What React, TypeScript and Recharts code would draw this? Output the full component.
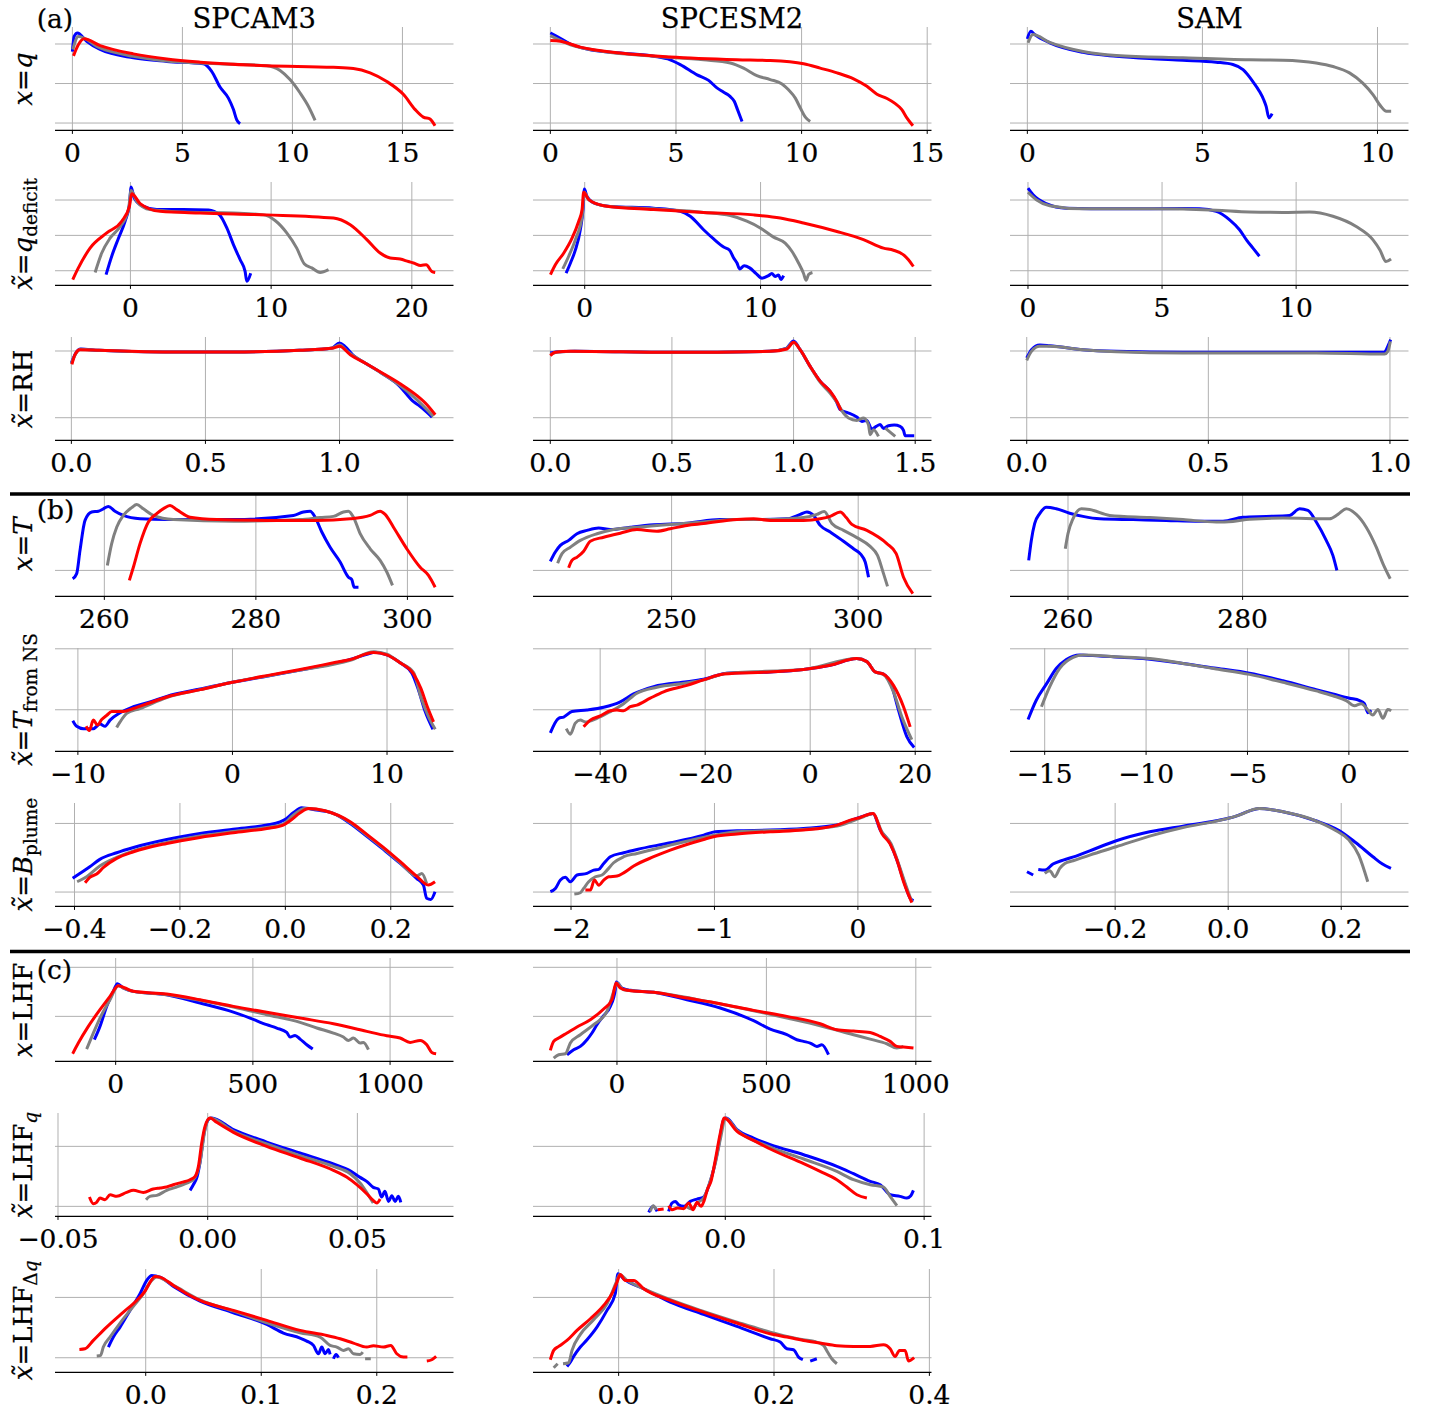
import React from "react";
import { LineChart, Line, XAxis, YAxis, CartesianGrid } from "recharts";

type Pt = [number, number] | null;

// ---- (a) x = q ----
const q_cam_b: Pt[] = [[0,1.81],[0.08,2.19],[0.23,2.28],[0.65,2.07],[1.26,1.86],[2.77,1.65],[4.29,1.56],[5.95,1.5],[6.33,1.31],[6.71,0.91],[7.09,0.63],[7.32,0.34],[7.47,0.08],[7.62,-0.02]];
const q_cam_g: Pt[] = [[0.02,1.86],[0.27,2.19],[1.26,1.9],[2.77,1.69],[4.29,1.57],[5.8,1.52],[7.32,1.49],[8.83,1.45],[9.44,1.33],[9.89,1.1],[10.35,0.76],[10.73,0.42],[11.03,0.07]];
const q_cam_r: Pt[] = [[0.05,1.7],[0.27,1.98],[0.53,2.13],[1.26,1.96],[2.77,1.75],[4.29,1.62],[5.8,1.54],[8.83,1.45],[11.86,1.41],[12.77,1.38],[13.53,1.27],[14.29,1.05],[15.05,0.72],[15.58,0.34],[15.95,0.15],[16.26,0.1],[16.48,-0.07]];
const q_cesm_b: Pt[] = [[0,2.28],[0.27,2.19],[0.8,2.0],[1.46,1.87],[2.79,1.77],[4.11,1.69],[4.77,1.6],[5.17,1.48],[5.84,1.22],[6.3,1.08],[6.63,0.89],[6.9,0.78],[7.14,0.68],[7.32,0.55],[7.45,0.34],[7.63,0.04]];
const q_cesm_g: Pt[] = [[0,2.21],[0.8,1.98],[2.12,1.81],[4.11,1.69],[6.1,1.6],[7.16,1.52],[7.69,1.39],[8.22,1.2],[8.75,1.1],[9.22,0.99],[9.48,0.84],[9.75,0.63],[9.95,0.38],[10.15,0.15],[10.34,0.04]];
const q_cesm_r: Pt[] = [[0,2.09],[0.4,2.07],[1.19,1.92],[2.79,1.77],[4.77,1.67],[7.43,1.6],[8.75,1.58],[10.08,1.5],[10.74,1.39],[11.41,1.27],[12.07,1.12],[12.6,0.93],[13.0,0.73],[13.4,0.62],[13.73,0.49],[13.99,0.34],[14.19,0.13],[14.43,-0.07]];
const q_sam_b: Pt[] = [[0,2.13],[0.1,2.32],[0.21,2.24],[0.64,2.03],[1.59,1.79],[2.54,1.69],[3.49,1.63],[4.44,1.59],[5.39,1.54],[5.87,1.48],[6.16,1.35],[6.44,1.05],[6.63,0.8],[6.75,0.59],[6.82,0.42],[6.9,0.13],[6.99,0.24]];
const q_sam_g: Pt[] = [[0.02,2.03],[0.16,2.24],[0.64,2.04],[1.59,1.81],[2.54,1.71],[4.44,1.65],[6.35,1.6],[7.3,1.59],[8.25,1.52],[8.73,1.43],[9.2,1.27],[9.58,1.01],[9.87,0.72],[10.1,0.42],[10.25,0.3],[10.39,0.3]];

// ---- q deficit ----
const qdef_cam_b: Pt[] = [[-1.73,-0.11],[-1.33,0.41],[-0.85,0.92],[-0.38,1.4],[-0.07,1.87],[0.05,2.37],[0.26,2.06],[0.81,1.84],[1.87,1.73],[3.77,1.73],[5.55,1.72],[6.33,1.58],[6.85,1.21],[7.32,0.74],[7.8,0.31],[8.15,-0.02],[8.27,-0.3],[8.55,-0.07]];
const qdef_cam_g: Pt[] = [[-2.51,-0.05],[-2.04,0.5],[-1.45,0.92],[-0.73,1.25],[-0.14,1.73],[0.05,2.27],[0.45,1.96],[1.4,1.73],[3.77,1.66],[7.32,1.63],[9.45,1.58],[10.28,1.42],[11.11,1.07],[11.82,0.64],[12.35,0.2],[12.89,0.08],[13.48,-0.05],[14.08,0.03]];
const qdef_cam_r: Pt[] = [[-4.1,-0.25],[-3.7,0.08],[-2.87,0.64],[-1.68,1.07],[-0.62,1.4],[-0.07,1.82],[0.09,2.18],[0.69,1.9],[2.11,1.68],[4.95,1.63],[9.69,1.58],[14.43,1.49],[15.62,1.3],[16.8,0.88],[17.75,0.5],[18.46,0.36],[19.17,0.33],[19.76,0.26],[20.12,0.22],[20.64,0.15],[21.02,0.17],[21.42,-0.02],[21.66,-0.05]];
const qdef_cesm_b: Pt[] = [[-1.06,-0.07],[-0.81,0.22],[-0.53,0.59],[-0.25,1.16],[-0.09,1.77],[-0.02,2.31],[0.13,2.1],[0.51,1.92],[1.46,1.82],[3.92,1.77],[5.44,1.68],[6.0,1.54],[6.76,1.16],[7.33,0.9],[7.9,0.67],[8.24,0.58],[8.47,0.36],[8.66,0.22],[8.81,0.05],[9.07,0.14],[9.38,0.08],[9.75,-0.08],[10.08,-0.21],[10.45,-0.14],[10.64,-0.08],[10.83,-0.16],[11.02,-0.12],[11.16,-0.25],[11.31,-0.14]];
const qdef_cesm_g: Pt[] = [[-1.25,0.05],[-0.91,0.41],[-0.53,0.88],[-0.15,1.54],[-0.02,2.22],[0.23,2.01],[1.08,1.84],[3.92,1.75],[6.76,1.65],[8.28,1.56],[9.22,1.4],[9.98,1.21],[10.74,0.95],[11.4,0.78],[11.78,0.55],[12.16,0.22],[12.44,-0.07],[12.59,-0.27],[12.73,-0.11],[12.95,-0.05]];
const qdef_cesm_r: Pt[] = [[-1.95,-0.11],[-1.67,0.17],[-1.19,0.5],[-0.72,0.92],[-0.34,1.4],[-0.15,1.73],[-0.06,2.22],[0.23,2.01],[1.08,1.84],[3.92,1.73],[6.76,1.65],[9.6,1.58],[11.12,1.49],[12.44,1.35],[14.34,1.11],[15.85,0.88],[16.99,0.64],[17.56,0.58],[18.13,0.45],[18.41,0.31],[18.69,0.12]];
const qdef_sam_b: Pt[] = [[0,2.34],[0.19,2.15],[0.68,1.9],[1.43,1.77],[3.29,1.75],[5.78,1.76],[6.4,1.75],[7.02,1.68],[7.52,1.44],[7.89,1.16],[8.16,0.86],[8.39,0.64],[8.63,0.41]];
const qdef_sam_g: Pt[] = [[0,2.22],[0.31,2.01],[0.81,1.84],[2.05,1.75],[4.53,1.75],[7.02,1.71],[8.26,1.66],[9.5,1.65],[10.5,1.66],[11.37,1.54],[12.24,1.25],[12.86,0.88],[13.13,0.58],[13.35,0.26],[13.54,0.33]];

// ---- RH ----
const rh_cam_b: Pt[] = [[0,0.82],[0.015,0.96],[0.035,1.03],[0.1,1.01],[0.35,0.985],[0.6,0.985],[0.85,1.01],[0.97,1.04],[1.0,1.12],[1.02,1.07],[1.05,0.94],[1.1,0.81],[1.16,0.66],[1.22,0.49],[1.276,0.24],[1.3,0.17],[1.345,0.01]];
const rh_cam_g: Pt[] = [[0,0.81],[0.015,0.95],[0.035,1.025],[0.1,1.01],[0.35,0.985],[0.6,0.985],[0.85,1.01],[0.97,1.04],[1.0,1.09],[1.03,0.99],[1.1,0.81],[1.16,0.66],[1.22,0.5],[1.28,0.3],[1.35,0.02]];
const rh_cam_r: Pt[] = [[0.002,0.8],[0.014,0.95],[0.032,1.02],[0.107,1.01],[0.356,0.985],[0.604,0.985],[0.853,1.01],[0.978,1.045],[1.0,1.07],[1.04,0.945],[1.1,0.81],[1.164,0.66],[1.226,0.51],[1.289,0.33],[1.326,0.195],[1.357,0.045]];
const rh_cesm_b: Pt[] = [[0,0.97],[0.03,0.99],[0.1,0.995],[0.5,0.98],[0.9,0.995],[0.97,1.04],[1.0,1.15],[1.027,1.02],[1.068,0.77],[1.11,0.545],[1.15,0.395],[1.175,0.25],[1.192,0.12],[1.219,0.08],[1.26,0.01],[1.281,-0.055],[1.301,-0.04],[1.322,-0.17],[1.34,-0.13],[1.356,-0.1],[1.37,-0.16],[1.39,-0.12],[1.414,-0.11],[1.438,-0.13],[1.452,-0.19],[1.459,-0.27],[1.496,-0.27]];
const rh_cesm_g: Pt[] = [[0,0.95],[0.03,0.985],[0.1,0.995],[0.5,0.98],[0.9,0.995],[0.97,1.035],[1.0,1.13],[1.027,1.02],[1.068,0.77],[1.11,0.53],[1.15,0.37],[1.18,0.22],[1.205,0.07],[1.226,-0.005],[1.26,-0.04],[1.288,-0.005],[1.308,-0.105],[1.315,-0.255],[1.329,-0.18],[1.349,-0.28],null,[1.377,-0.155],[1.418,-0.28]];
const rh_cesm_r: Pt[] = [[0,0.93],[0.021,0.98],[0.082,0.995],[0.493,0.98],[0.904,0.995],[0.973,1.03],[1.0,1.13],[1.027,1.02],[1.068,0.77],[1.11,0.545],[1.151,0.395],[1.178,0.245],[1.195,0.11]];
const rh_sam_b: Pt[] = [[0,0.895],[0.013,1.02],[0.036,1.09],[0.063,1.08],[0.155,1.02],[0.247,0.995],[0.43,0.98],[0.614,0.98],[0.797,0.98],[0.985,0.985],[0.994,1.07],[1.002,1.17]];
const rh_sam_g: Pt[] = [[0,0.86],[0.013,0.995],[0.036,1.07],[0.063,1.07],[0.155,1.02],[0.247,0.99],[0.43,0.97],[0.614,0.97],[0.797,0.97],[0.985,0.955],[0.994,0.995],[1.001,1.145]];

// ---- (b) x = T ----
const t_cam_b: Pt[] = [[255.82,-0.21],[256.35,-0.08],[256.79,0.5],[257.45,1.25],[258.33,1.46],[259.21,1.48],[259.87,1.54],[260.53,1.6],[261.41,1.48],[262.51,1.375],[264.71,1.29],[268.23,1.27],[277.03,1.27],[284.96,1.375],[286.28,1.46],[287.16,1.48],[287.82,1.33],[288.7,0.96],[289.8,0.58],[291.12,0.21],[292.22,-0.17],[292.66,-0.23],[292.97,-0.42],[293.54,-0.42]];
const t_cam_g: Pt[] = [[260.4,0.125],[260.97,0.67],[261.63,1.08],[262.51,1.375],[263.61,1.57],[264.27,1.65],[265.15,1.54],[266.47,1.375],[269.11,1.27],[277.03,1.23],[285.84,1.27],[288.48,1.32],[290.24,1.35],[291.56,1.46],[292.22,1.48],[292.88,1.33],[293.76,0.92],[295.08,0.54],[296.4,0.25],[297.28,-0.04],[298.03,-0.375]];
const t_cam_r: Pt[] = [[263.3,-0.25],[263.83,0.08],[264.71,0.67],[265.81,1.21],[266.91,1.42],[268.01,1.57],[268.67,1.625],[269.55,1.52],[271.31,1.33],[274.83,1.27],[281.43,1.25],[288.04,1.25],[292.44,1.29],[295.08,1.375],[296.4,1.48],[297.06,1.4],[298.16,1.08],[299.92,0.54],[301.68,0.08],[302.78,-0.125],[303.66,-0.42]];
const t_cesm_b: Pt[] = [[217.5,0.225],[218.84,0.46],[220.18,0.625],[222.41,0.75],[224.64,0.917],[227.32,1.0],[230.45,1.06],[233.57,1.02],[238.93,1.08],[245.18,1.14],[254.11,1.18],[263.04,1.27],[271.96,1.27],[280.89,1.29],[284.46,1.4],[286.25,1.46],[288.04,1.375],[289.82,1.125],[292.5,0.96],[296.07,0.73],[298.75,0.54],[300.71,0.4],[301.88,0.21],[302.77,-0.17]];
const t_cesm_g: Pt[] = [[219.46,0.18],[220.63,0.42],[222.86,0.58],[225.54,0.75],[230.0,0.917],[234.46,1.02],[240.71,1.08],[249.64,1.15],[258.57,1.21],[267.5,1.27],[276.43,1.27],[285.36,1.32],[288.93,1.4],[290.89,1.475],[292.95,1.17],[296.07,1.0],[299.64,0.82],[303.21,0.6],[305.18,0.375],[306.79,-0.08],[307.86,-0.4]];
const t_cesm_r: Pt[] = [[222.41,0.067],[223.3,0.25],[224.64,0.33],[226.43,0.48],[228.21,0.73],[231.79,0.83],[236.25,0.93],[240.71,1.02],[246.07,0.98],[249.64,1.04],[254.11,1.125],[258.57,1.17],[267.5,1.275],[271.96,1.29],[276.43,1.25],[285.36,1.25],[289.82,1.29],[292.5,1.35],[295.18,1.46],[296.79,1.32],[298.3,1.15],[302.32,1.0],[307.68,0.67],[310.18,0.42],[312.14,-0.17],[314.64,-0.58]];
const t_sam_b: Pt[] = [[255.5,0.25],[255.8,0.75],[256.18,1.17],[256.76,1.42],[257.52,1.58],[258.66,1.54],[260.19,1.43],[261.72,1.35],[263.63,1.29],[267.44,1.27],[271.26,1.25],[275.08,1.23],[277.75,1.23],[280.04,1.33],[282.71,1.35],[285.38,1.375],[286.53,1.54],[287.48,1.5],[288.44,1.21],[289.58,0.75],[290.34,0.375],[290.8,0.0]];
const t_sam_g: Pt[] = [[259.69,0.54],[260.0,0.92],[260.57,1.29],[261.53,1.54],[262.48,1.52],[264.77,1.375],[269.35,1.32],[273.17,1.27],[276.98,1.21],[278.89,1.225],[280.8,1.28],[284.62,1.31],[289.96,1.29],[290.92,1.4],[291.87,1.54],[293.02,1.4],[294.16,1.08],[295.31,0.58],[296.07,0.17],[296.91,-0.21]];

// ---- T from NS ----
const tns_cam_b: Pt[] = [[-10.33,-0.18],[-10.08,-0.27],[-9.64,-0.31],[-9.0,-0.31],[-8.57,-0.235],[-8.24,-0.27],[-7.92,-0.17],[-7.27,-0.05],[-6.41,0.05],[-5.33,0.13],[-4.25,0.22],[-2.09,0.34],[0,0.45],[2.22,0.55],[4.38,0.65],[6.54,0.76],[7.62,0.825],[8.69,0.91],[9.23,0.945],[9.99,0.9],[10.85,0.77],[11.61,0.6],[12.04,0.32],[12.47,-0.03],[12.97,-0.32]];
const tns_cam_g: Pt[] = [[-7.49,-0.29],[-7.27,-0.2],[-6.84,-0.06],[-5.98,0.02],[-4.25,0.2],[-2.09,0.33],[0,0.45],[4.38,0.65],[7.62,0.81],[9.13,0.95],[9.99,0.91],[10.85,0.77],[11.72,0.61],[12.19,0.21],[12.69,-0.115],[13.12,-0.32]];
const tns_cam_r: Pt[] = [[-9.47,-0.27],[-9.26,-0.34],[-9.0,-0.17],[-8.74,-0.25],[-8.46,-0.16],[-8.13,-0.09],[-7.81,-0.03],[-7.06,-0.03],[-6.41,0.02],[-5.33,0.115],[-4.25,0.21],[-2.09,0.33],[0,0.45],[2.22,0.56],[4.38,0.66],[6.54,0.77],[7.62,0.825],[9.13,0.94],[9.99,0.9],[10.85,0.77],[11.72,0.585],[12.19,0.35],[12.62,0.04],[13.01,-0.2]];
const tns_cesm_b: Pt[] = [[-49.49,-0.38],[-47.91,-0.14],[-46.95,-0.12],[-45.37,-0.03],[-42.51,-0.005],[-39.34,0.04],[-36.17,0.13],[-33.63,0.26],[-29.82,0.38],[-23.48,0.46],[-20.3,0.5],[-15.86,0.6],[-7.61,0.62],[-1.27,0.66],[3.81,0.73],[8.88,0.84],[10.79,0.79],[12.37,0.62],[13.96,0.585],[15.55,0.38],[16.81,-0.005],[18.4,-0.44],[19.8,-0.62]];
const tns_cesm_g: Pt[] = [[-46.45,-0.31],[-45.69,-0.4],[-44.73,-0.22],[-43.78,-0.17],[-42.83,-0.2],[-40.61,-0.14],[-38.07,-0.03],[-35.53,0.1],[-32.99,0.27],[-29.19,0.37],[-23.48,0.44],[-20.3,0.49],[-15.86,0.6],[-1.27,0.66],[8.88,0.84],[10.79,0.79],[12.37,0.62],[13.96,0.58],[15.86,0.295],[17.45,-0.115],[19.35,-0.49]];
const tns_cesm_r: Pt[] = [[-43.15,-0.28],[-41.88,-0.17],[-39.97,-0.1],[-38.07,-0.016],[-36.8,-0.005],[-35.53,-0.016],[-34.26,0.05],[-32.99,0.077],[-30.46,0.19],[-27.92,0.295],[-23.48,0.4],[-20.3,0.49],[-16.5,0.585],[-7.61,0.62],[-1.27,0.66],[3.81,0.73],[8.88,0.84],[10.79,0.79],[12.37,0.62],[13.96,0.585],[15.86,0.4],[17.77,0.05],[19.04,-0.28]];
const tns_sam_b: Pt[] = [[-15.82,-0.16],[-15.41,0.16],[-14.92,0.42],[-14.42,0.68],[-13.93,0.825],[-13.27,0.9],[-12.29,0.88],[-10.15,0.84],[-8.18,0.76],[-6.54,0.68],[-4.9,0.6],[-3.25,0.475],[-1.61,0.33],[-0.79,0.26],[0.03,0.19],[0.53,0.15],[0.77,0.1],[0.94,-0.05],[1.1,-0.005]];
const tns_sam_g: Pt[] = [[-15.16,0.05],[-14.75,0.38],[-14.26,0.68],[-13.6,0.86],[-13.11,0.9],[-11.47,0.87],[-9.82,0.84],[-8.18,0.76],[-6.54,0.67],[-4.9,0.58],[-3.25,0.45],[-1.61,0.31],[-0.79,0.23],[-0.13,0.15],[0.28,0.066],[0.61,0.1],[0.94,-0.005],[1.18,-0.087],[1.43,0.005],[1.68,-0.14],[1.92,0.005],[2.09,-0.016]];

// ---- B plume ----
const bpl_cam_b: Pt[] = [[-0.4035,0.2],[-0.39,0.27],[-0.371,0.37],[-0.352,0.476],[-0.32,0.573],[-0.288,0.65],[-0.225,0.767],[-0.162,0.854],[-0.099,0.917],[-0.035,0.976],[-0.01,1.024],[0.0025,1.073],[0.015,1.155],[0.031,1.228],[0.059,1.194],[0.091,1.146],[0.123,1.0],[0.154,0.816],[0.186,0.621],[0.218,0.417],[0.249,0.199],[0.262,0.1],[0.268,-0.09],[0.276,-0.107],[0.284,0.005]];
const bpl_cam_g: Pt[] = [[-0.395,0.15],[-0.377,0.223],[-0.352,0.379],[-0.32,0.505],[-0.288,0.6],[-0.225,0.723],[-0.162,0.816],[-0.099,0.883],[-0.035,0.942],[-0.004,0.99],[0.015,1.12],[0.037,1.218],[0.075,1.184],[0.123,1.015],[0.154,0.83],[0.186,0.636],[0.218,0.427],[0.249,0.233],[0.259,0.27],[0.268,0.126]];
const bpl_cam_r: Pt[] = [[-0.38,0.136],[-0.371,0.214],[-0.358,0.262],[-0.345,0.359],[-0.32,0.49],[-0.288,0.587],[-0.225,0.709],[-0.162,0.796],[-0.099,0.864],[-0.035,0.927],[-0.004,0.976],[0.0089,1.039],[0.028,1.155],[0.044,1.218],[0.075,1.184],[0.123,1.024],[0.154,0.845],[0.186,0.65],[0.218,0.442],[0.249,0.233],[0.271,0.102],[0.284,0.15]];
const bpl_cesm_b: Pt[] = [[-2.144,0.005],[-2.109,0.053],[-2.074,0.175],[-2.039,0.214],[-2.005,0.15],[-1.958,0.248],[-1.889,0.272],[-1.842,0.32],[-1.807,0.33],[-1.772,0.417],[-1.726,0.515],[-1.633,0.573],[-1.54,0.621],[-1.308,0.718],[-1.075,0.83],[-0.994,0.879],[-0.843,0.893],[-0.611,0.903],[-0.379,0.927],[-0.146,0.976],[-0.053,1.039],[0.039,1.107],[0.105,1.146],[0.156,0.903],[0.225,0.709],[0.272,0.466],[0.318,0.175],[0.365,-0.092],[0.388,-0.126]];
const bpl_cesm_g: Pt[] = [[-1.977,-0.03],[-1.935,-0.01],[-1.912,0.053],[-1.877,0.15],[-1.83,0.223],[-1.784,0.248],[-1.749,0.32],[-1.703,0.427],[-1.633,0.515],[-1.54,0.563],[-1.308,0.684],[-1.075,0.796],[-0.843,0.879],[-0.379,0.913],[-0.146,0.961],[0.039,1.097],[0.105,1.146],[0.167,0.879],[0.23,0.709],[0.283,0.417],[0.33,0.126],[0.376,-0.141]];
const bpl_cesm_r: Pt[] = [[-1.9,0.03],[-1.865,0.03],[-1.837,0.175],[-1.807,0.1],[-1.772,0.175],[-1.738,0.223],[-1.679,0.233],[-1.633,0.28],[-1.563,0.379],[-1.424,0.515],[-1.308,0.612],[-1.075,0.767],[-1.006,0.806],[-0.843,0.845],[-0.611,0.879],[-0.379,0.903],[-0.146,0.976],[-0.053,1.049],[0.016,1.087],[0.105,1.146],[0.167,0.854],[0.225,0.699],[0.272,0.466],[0.318,0.15],[0.376,-0.155]];
const bpl_sam_b: Pt[] = [[-0.356,0.296],[-0.345,0.248],null,[-0.336,0.33],[-0.324,0.32],[-0.31,0.408],[-0.292,0.466],[-0.269,0.524],[-0.245,0.6],[-0.198,0.748],[-0.139,0.879],[-0.08,0.961],[-0.021,1.039],[0.014,1.107],[0.038,1.184],[0.055,1.218],[0.097,1.17],[0.155,1.039],[0.197,0.893],[0.226,0.718],[0.256,0.515],[0.273,0.408],[0.288,0.345]];
const bpl_sam_g: Pt[] = [[-0.3245,0.272],[-0.3157,0.31],[-0.3068,0.223],[-0.298,0.345],[-0.289,0.417],[-0.2744,0.456],[-0.245,0.539],[-0.198,0.66],[-0.139,0.816],[-0.08,0.942],[-0.021,1.034],[0.014,1.107],[0.055,1.218],[0.097,1.17],[0.155,1.039],[0.191,0.893],[0.214,0.757],[0.231,0.539],[0.247,0.15]];

// ---- (c) x = LHF ----
const lhf_cam_b: Pt[] = [[-77.8,-0.476],[-57.1,-0.204],[-32.8,0.204],[-8.5,0.51],[6.1,0.667],[27.9,0.578],[64.4,0.51],[185.9,0.442],[307.4,0.272],[428.9,0.088],[489.7,-0.034],[550.4,-0.17],[586.9,-0.238],[623.4,-0.327],[635.5,-0.422],[653.7,-0.388],[672,-0.463],[696.3,-0.578],[718.1,-0.667]];
const lhf_cam_g: Pt[] = [[-105.7,-0.667],[-81.4,-0.34],[-57.1,-0.034],[-20.7,0.34],[9.7,0.626],[27.9,0.578],[64.4,0.51],[185.9,0.442],[307.4,0.327],[428.9,0.19],[550.4,0.034],[671.9,-0.122],[732.7,-0.238],[793.5,-0.34],[829.9,-0.422],[848.1,-0.49],[866.4,-0.442],[890.7,-0.544],[902.8,-0.531],[921.1,-0.68]];
const lhf_cam_r: Pt[] = [[-156.7,-0.762],[-136.1,-0.544],[-99.6,-0.204],[-57.1,0.136],[-20.7,0.408],[9.7,0.626],[34,0.578],[64.4,0.51],[185.9,0.456],[307.4,0.34],[428.9,0.204],[550.4,0.082],[671.9,-0.034],[793.5,-0.15],[915,-0.306],[987.9,-0.395],[1036.5,-0.442],[1072.9,-0.531],[1109.4,-0.49],[1133.7,-0.578],[1151.9,-0.735],[1167.7,-0.762]];
const lhf_cesm_b: Pt[] = [[-167.2,-0.782],[-144.9,-0.68],[-122.6,-0.612],[-100.3,-0.476],[-83.6,-0.34],[-66.9,-0.17],[-44.6,0.014],[-22.3,0.204],[-5.6,0.544],[-2.2,0.7],[16.7,0.578],[44.6,0.531],[122.6,0.49],[234.1,0.34],[345.6,0.17],[457.1,-0.088],[512.8,-0.259],[568.5,-0.374],[602,-0.476],[624.3,-0.51],[646.6,-0.544],[668.9,-0.612],[685.6,-0.578],[707.9,-0.782]];
const lhf_cesm_g: Pt[] = [[-211.8,-0.85],[-195.1,-0.782],[-172.8,-0.762],[-156.1,-0.544],[-122.6,-0.374],[-78,-0.17],[-33.4,0.102],[-8.9,0.544],[0,0.68],[22.3,0.544],[122.6,0.49],[289.8,0.32],[457.1,0.116],[568.5,-0.034],[680,-0.19],[791.5,-0.374],[847.2,-0.463],[902.9,-0.558],[936.4,-0.646],[958.7,-0.612]];
const lhf_cesm_r: Pt[] = [[-223,-0.694],[-211.8,-0.51],[-195.1,-0.442],[-167.2,-0.34],[-133.8,-0.218],[-89.2,-0.068],[-44.6,0.15],[-16.7,0.34],[-3.3,0.68],[11.1,0.578],[33.4,0.531],[122.6,0.49],[234.1,0.374],[345.6,0.259],[457.1,0.122],[568.5,0],[680,-0.15],[735.8,-0.272],[791.5,-0.299],[847.2,-0.327],[880.7,-0.408],[914.1,-0.51],[936.4,-0.612],[958.7,-0.626],[992.1,-0.646]];

// ---- LHF_q ----
const lhfq_cam_b: Pt[] = [[-0.0059,0.267],[-0.0048,0.361],[-0.0035,0.5],[-0.0026,0.722],[-0.0012,1.222],[0.0002,1.444],[0.0013,1.472],[0.0086,1.278],[0.0197,1.072],[0.0308,0.889],[0.042,0.706],[0.0476,0.594],[0.0509,0.483],[0.0531,0.417],[0.0553,0.317],[0.057,0.289],[0.0581,0.156],[0.0592,0.25],[0.0604,0.083],[0.0615,0.178],[0.0626,0.083],[0.0637,0.167],[0.0645,0.067]];
const lhfq_cam_g: Pt[] = [[-0.0206,0.111],[-0.0193,0.167],[-0.017,0.183],[-0.0137,0.267],[-0.0104,0.322],[-0.007,0.389],[-0.0048,0.444],[-0.0026,0.722],[-0.0009,1.278],[0.0008,1.472],[0.0086,1.25],[0.0197,1.039],[0.0308,0.844],[0.042,0.667],[0.0476,0.544],[0.0509,0.389],[0.0531,0.233],[0.0553,0.056]];
const lhfq_cam_r: Pt[] = [[-0.0395,0.156],[-0.0382,0.044],[-0.0371,0.067],[-0.036,0.139],[-0.0343,0.111],[-0.0326,0.194],[-0.0304,0.167],[-0.0271,0.233],[-0.0248,0.267],[-0.0215,0.233],[-0.0182,0.289],[-0.0159,0.306],[-0.0137,0.322],[-0.0115,0.361],[-0.0087,0.4],[-0.0059,0.444],[-0.0042,0.5],[-0.0031,0.667],[-0.002,1.056],[-0.0009,1.333],[0.0008,1.472],[0.003,1.4],[0.0086,1.233],[0.0197,1.0],[0.0308,0.806],[0.042,0.6],[0.0464,0.489],[0.0498,0.361],[0.0531,0.211],[0.0553,0.1],[0.0565,0.056],[0.0576,0.122]];
const lhfq_cesm_b: Pt[] = [[-0.0385,-0.1],[-0.0363,0],[-0.0343,-0.083],null,[-0.0285,-0.083],[-0.0268,0.056],[-0.0251,0.083],[-0.0235,0.028],[-0.0209,0],[-0.0176,0.083],[-0.0142,0.122],[-0.0109,0.156],[-0.0084,0.333],[-0.0059,0.611],[-0.0034,1.0],[-0.0008,1.444],[0.0005,1.472],[0.0059,1.278],[0.0142,1.139],[0.0226,1.028],[0.0394,0.861],[0.0561,0.667],[0.0645,0.544],[0.0729,0.417],[0.0779,0.361],[0.0829,0.194],[0.0879,0.167],[0.0913,0.139],[0.0933,0.178],[0.0946,0.267]];
const lhfq_cesm_g: Pt[] = [[-0.0377,-0.083],[-0.0363,0.011],[-0.0347,-0.056],null,[-0.0193,-0.011],[-0.0168,-0.044],[-0.0142,0.056],[-0.0109,0.139],[-0.0079,0.389],[-0.005,0.722],[-0.0022,1.167],[0,1.472],[0.0059,1.267],[0.0226,0.989],[0.0394,0.789],[0.0561,0.583],[0.0645,0.444],[0.0729,0.361],[0.0796,0.322],[0.0829,0.167],[0.0863,0.011]];
const lhfq_cesm_r: Pt[] = [[-0.034,-0.056],[-0.031,-0.044],null,[-0.0285,0.011],[-0.0268,-0.056],[-0.024,-0.028],[-0.0209,-0.039],[-0.0184,0.056],[-0.0162,-0.056],[-0.0142,0.067],[-0.0122,0],[-0.0106,0.1],[-0.0089,0.289],[-0.0072,0.417],[-0.005,0.778],[-0.0025,1.222],[-0.0005,1.472],[0.0059,1.25],[0.0142,1.1],[0.0226,0.956],[0.0394,0.711],[0.0477,0.583],[0.0561,0.444],[0.0611,0.322],[0.0662,0.194],[0.0712,0.139]];

// ---- LHF_dq ----
const lhfdq_cam_b: Pt[] = [[-0.0323,0.177],[-0.028,0.343],[-0.0222,0.508],[-0.0136,0.785],[-0.0049,1.061],[0.0009,1.282],[0.0052,1.365],[0.0124,1.337],[0.024,1.182],[0.047,0.939],[0.0759,0.746],[0.1048,0.552],[0.1192,0.409],[0.1336,0.326],[0.1394,0.276],[0.1452,0.204],[0.1495,0.066],[0.1524,0.177],[0.1553,0.066],[0.1582,0.138],[0.1596,0.055],null,[0.1625,-0.017],[0.1648,0.055],[0.1668,0]];
const lhfdq_cam_g: Pt[] = [[-0.0424,0.028],[-0.039,0.039],[-0.0367,0.177],[-0.0309,0.343],[-0.0222,0.575],[-0.0107,0.851],[-0.002,1.061],[0.0052,1.282],[0.0095,1.337],[0.024,1.199],[0.047,0.961],[0.0759,0.773],[0.1048,0.58],[0.1336,0.414],[0.1509,0.343],[0.1596,0.204],[0.1654,0.177],[0.1711,0.122],[0.1755,0.149],[0.1798,0.066],[0.1856,0.055],[0.1879,0.094],null,[0.1899,-0.017],[0.1948,-0.017]];
const lhfdq_cam_r: Pt[] = [[-0.0574,0.138],[-0.0525,0.149],[-0.0453,0.287],[-0.0338,0.508],[-0.0193,0.757],[-0.0078,0.95],[-0.0006,1.105],[0.0038,1.254],[0.0081,1.348],[0.0124,1.337],[0.024,1.199],[0.0355,1.061],[0.047,0.95],[0.0759,0.785],[0.1048,0.619],[0.1336,0.453],[0.1567,0.37],[0.1683,0.315],[0.1798,0.243],[0.1913,0.177],[0.1971,0.199],[0.2058,0.177],[0.2121,0.204],[0.2173,0.066],[0.2231,0.011],[0.2265,0.011],null,[0.2433,-0.055],[0.2476,-0.033],[0.2514,0.022]];
const lhfdq_cesm_b: Pt[] = [[-0.0665,-0.144],[-0.0622,-0.072],[-0.0579,0.022],[-0.0493,0.177],[-0.0407,0.298],[-0.0279,0.508],[-0.015,0.785],[-0.0043,1.061],[-0.0009,1.392],[0.0064,1.309],[0.0322,1.144],[0.0665,0.923],[0.1093,0.718],[0.1522,0.519],[0.1951,0.315],[0.208,0.26],[0.2166,0.149],[0.2251,0.133],[0.2316,0.011],[0.2371,-0.033],null,[0.2466,-0.055],[0.2551,-0.017]];
const lhfdq_cesm_g: Pt[] = [[-0.0836,-0.166],[-0.0785,-0.1],null,[-0.0716,-0.1],[-0.0643,-0.083],[-0.06,0.122],[-0.0493,0.387],[-0.0322,0.63],[-0.015,0.895],[-0.003,1.254],[0.0013,1.381],[0.0107,1.282],[0.0322,1.144],[0.0665,0.961],[0.1093,0.768],[0.1522,0.591],[0.1951,0.425],[0.2166,0.354],[0.238,0.298],[0.2509,0.276],[0.2637,0.204],[0.2689,0.094],[0.2744,-0.017],[0.2809,-0.1]];
const lhfdq_cesm_r: Pt[] = [[-0.0879,-0.033],[-0.0836,0.122],[-0.0772,0.188],[-0.0665,0.287],[-0.0536,0.453],[-0.0364,0.646],[-0.0193,0.867],[-0.0086,1.061],[-0.0021,1.254],[0.0021,1.381],[0.0086,1.282],[0.0193,1.282],[0.0322,1.144],[0.0665,0.95],[0.1093,0.757],[0.1522,0.575],[0.1951,0.398],[0.2166,0.343],[0.238,0.287],[0.2594,0.243],[0.2809,0.199],[0.3023,0.188],[0.3237,0.188],[0.3409,0.215],[0.3495,0.149],[0.3559,0.022],[0.3615,0.122],[0.3688,0.122],[0.3731,-0.055],[0.3804,0]];

const MODELS = ["SPCAM3", "SPCESM2", "SAM"];
const COLORS = ["#0000ff", "#808080", "#ff0000"];

// y range per row (log density, gridlines at integer values)
const ROW_Y = [
  { d: [-0.186, 2.43], g: [0, 1, 2] },
  { d: [-0.415, 2.51], g: [0, 1, 2] },
  { d: [-0.34, 1.21], g: [0, 1] },
  { d: [-0.65, 1.935], g: [0] },
  { d: [-0.683, 1.013], g: [0, 1] },
  { d: [-0.209, 1.298], g: [0, 1] },
  { d: [-0.918, 1.19], g: [0, 1] },
  { d: [-0.167, 1.556], g: [0, 1] },
  { d: [-0.243, 1.471], g: [0, 1] },
];

const PANELS = [
  { r: 0, c: 0, xd: [-0.79, 17.32], xt: [0, 5, 10, 15], dec: 0, s: [q_cam_b, q_cam_g, q_cam_r] },
  { r: 0, c: 1, xd: [-0.69, 15.17], xt: [0, 5, 10, 15], dec: 0, s: [q_cesm_b, q_cesm_g, q_cesm_r] },
  { r: 0, c: 2, xd: [-0.495, 10.885], xt: [0, 5, 10], dec: 0, s: [q_sam_b, q_sam_g] },
  { r: 1, c: 0, xd: [-5.36, 22.96], xt: [0, 10, 20], dec: 0, s: [qdef_cam_b, qdef_cam_g, qdef_cam_r] },
  { r: 1, c: 1, xd: [-2.94, 19.72], xt: [0, 10], dec: 0, s: [qdef_cesm_b, qdef_cesm_g, qdef_cesm_r] },
  { r: 1, c: 2, xd: [-0.67, 14.19], xt: [0, 5, 10], dec: 0, s: [qdef_sam_b, qdef_sam_g] },
  { r: 2, c: 0, xd: [-0.061, 1.425], xt: [0, 0.5, 1], dec: 1, s: [rh_cam_b, rh_cam_g, rh_cam_r] },
  { r: 2, c: 1, xd: [-0.071, 1.567], xt: [0, 0.5, 1, 1.5], dec: 1, s: [rh_cesm_b, rh_cesm_g, rh_cesm_r] },
  { r: 2, c: 2, xd: [-0.046, 1.051], xt: [0, 0.5, 1], dec: 1, s: [rh_sam_b, rh_sam_g] },
  { r: 3, c: 0, xd: [253.49, 306.08], xt: [260, 280, 300], dec: 0, s: [t_cam_b, t_cam_g, t_cam_r] },
  { r: 3, c: 1, xd: [212.86, 319.64], xt: [250, 300], dec: 0, s: [t_cesm_b, t_cesm_g, t_cesm_r] },
  { r: 3, c: 2, xd: [253.36, 299.0], xt: [260, 280], dec: 0, s: [t_sam_b, t_sam_g] },
  { r: 4, c: 0, xd: [-11.48, 14.3], xt: [-10, 0, 10], dec: 0, s: [tns_cam_b, tns_cam_g, tns_cam_r] },
  { r: 4, c: 1, xd: [-52.79, 23.1], xt: [-40, -20, 0, 20], dec: 0, s: [tns_cesm_b, tns_cesm_g, tns_cesm_r] },
  { r: 4, c: 2, xd: [-16.71, 2.94], xt: [-15, -10, -5, 0], dec: 0, s: [tns_sam_b, tns_sam_g] },
  { r: 5, c: 0, xd: [-0.437, 0.319], xt: [-0.4, -0.2, 0, 0.2], dec: 1, s: [bpl_cam_b, bpl_cam_g, bpl_cam_r] },
  { r: 5, c: 1, xd: [-2.265, 0.513], xt: [-2, -1, 0], dec: 0, s: [bpl_cesm_b, bpl_cesm_g, bpl_cesm_r] },
  { r: 5, c: 2, xd: [-0.386, 0.319], xt: [-0.2, 0, 0.2], dec: 1, s: [bpl_sam_b, bpl_sam_g] },
  { r: 6, c: 0, xd: [-221, 1231], xt: [0, 500, 1000], dec: 0, s: [lhf_cam_b, lhf_cam_g, lhf_cam_r] },
  { r: 6, c: 1, xd: [-280.9, 1052.4], xt: [0, 500, 1000], dec: 0, s: [lhf_cesm_b, lhf_cesm_g, lhf_cesm_r] },
  { r: 7, c: 0, xd: [-0.051, 0.0821], xt: [-0.05, 0, 0.05], dec: 2, s: [lhfq_cam_b, lhfq_cam_g, lhfq_cam_r] },
  { r: 7, c: 1, xd: [-0.0967, 0.1037], xt: [0, 0.1], dec: 1, s: [lhfq_cesm_b, lhfq_cesm_g, lhfq_cesm_r] },
  { r: 8, c: 0, xd: [-0.0785, 0.2664], xt: [0, 0.1, 0.2], dec: 1, s: [lhfdq_cam_b, lhfdq_cam_g, lhfdq_cam_r] },
  { r: 8, c: 1, xd: [-0.1102, 0.4027], xt: [0, 0.2, 0.4], dec: 1, s: [lhfdq_cesm_b, lhfdq_cesm_g, lhfdq_cesm_r] },
];

type Part = { t: string; i?: boolean; sub?: boolean };
const XT = "x\u0303";
const YLABELS: Part[][] = [
  [{ t: "x", i: true }, { t: "=" }, { t: "q", i: true }],
  [{ t: XT, i: true }, { t: "=" }, { t: "q", i: true }, { t: "deficit", sub: true }],
  [{ t: XT, i: true }, { t: "=RH" }],
  [{ t: "x", i: true }, { t: "=" }, { t: "T", i: true }],
  [{ t: XT, i: true }, { t: "=" }, { t: "T", i: true }, { t: "from NS", sub: true }],
  [{ t: XT, i: true }, { t: "=" }, { t: "B", i: true }, { t: "plume", sub: true }],
  [{ t: "x", i: true }, { t: "=LHF" }],
  [{ t: XT, i: true }, { t: "=LHF" }, { t: "q", sub: true, i: true }],
  [{ t: XT, i: true }, { t: "=LHF" }, { t: "\u0394", sub: true }, { t: "q", sub: true, i: true }],
];

// layout
const W = 1429;
const H = 1410;
const COL_LEFT = [55, 532.7, 1010.3];
const PLOT_W = 398.5;
const PLOT_H = 103.4;
const ROW_BOTTOM = [130.7, 285.7, 440.7, 596, 751.3, 906.3, 1061.7, 1216.7, 1372];
const ML = 60;
const MR = 45;
const XH = 45;
const FONT = "DejaVu Serif";

const fmt = (dec: number) => (v: number) => {
  const s = Math.abs(v).toFixed(dec);
  return v < 0 ? "\u2212" + s : s;
};

function toRows(pts: Pt[]) {
  const out: { x: number; y: number | null }[] = [];
  let lastX = 0;
  for (const p of pts) {
    if (p === null) out.push({ x: lastX, y: null });
    else {
      lastX = p[0];
      out.push({ x: p[0], y: p[1] });
    }
  }
  return out;
}

function Panel({ p }: { p: (typeof PANELS)[number] }) {
  const ry = ROW_Y[p.r];
  return (
    <div
      style={{
        position: "absolute",
        left: COL_LEFT[p.c] - ML,
        top: ROW_BOTTOM[p.r] - PLOT_H,
      }}
    >
      <LineChart
        width={ML + PLOT_W + MR}
        height={PLOT_H + XH}
        margin={{ top: 0, right: MR, bottom: 0, left: ML }}
      >
        <CartesianGrid
          stroke="#b0b0b0"
          strokeWidth={1}
          horizontalValues={ry.g}
          verticalValues={p.xt}
        />
        <XAxis
          type="number"
          dataKey="x"
          domain={p.xd}
          ticks={p.xt}
          allowDataOverflow
          interval={0}
          height={XH}
          tickSize={3.5}
          tickMargin={9.3}
          tickFormatter={fmt(p.dec)}
          tick={{ fontSize: 26.5, fill: "#000", stroke: "#000", strokeWidth: 0.25, fontFamily: FONT }}
          axisLine={{ stroke: "#000", strokeWidth: 1.2 }}
          tickLine={{ stroke: "#000", strokeWidth: 1 }}
        />
        <YAxis type="number" dataKey="y" domain={ry.d} allowDataOverflow hide />
        {p.s.map((d, i) => (
          <Line
            key={i}
            data={toRows(d)}
            dataKey="y"
            type="monotoneX"
            stroke={COLORS[i]}
            strokeWidth={3}
            strokeLinejoin="round"
            dot={false}
            activeDot={false}
            connectNulls={false}
            isAnimationActive={false}
          />
        ))}
      </LineChart>
    </div>
  );
}

function YLabel({ parts, cy }: { parts: Part[]; cy: number }) {
  let shifted = false;
  return (
    <text
      transform={`translate(32,${cy}) rotate(-90)`}
      textAnchor="middle"
      fontFamily={FONT}
      fontSize={26}
      stroke="#000"
      strokeWidth={0.25}
      style={{ whiteSpace: "pre" }}
    >
      {parts.map((pt, i) => {
        let dy: number | undefined;
        if (pt.sub && !shifted) {
          shifted = true;
          dy = 5;
        }
        return (
          <tspan
            key={i}
            fontStyle={pt.i ? "italic" : "normal"}
            fontSize={pt.sub ? 18.5 : undefined}
            dy={dy}
          >
            {pt.t}
          </tspan>
        );
      })}
    </text>
  );
}

export default function App() {
  return (
    <div
      style={{
        position: "absolute",
        left: 0,
        top: 0,
        width: W,
        height: H,
        overflow: "hidden",
        background: "#fff",
      }}
    >
      {PANELS.map((p, i) => (
        <Panel key={i} p={p} />
      ))}
      <svg
        width={W}
        height={H}
        style={{ position: "absolute", left: 0, top: 0, pointerEvents: "none" }}
      >
        <g fontFamily={FONT} stroke="#000" strokeWidth={0.25}>
          {MODELS.map((m, c) => (
            <text
              key={m}
              x={COL_LEFT[c] + PLOT_W / 2}
              y={28.3}
              textAnchor="middle"
              fontSize={27.4}
            >
              {m}
            </text>
          ))}
          <text x={36.7} y={28.3} fontSize={26.5}>(a)</text>
          <text x={36.7} y={519.3} fontSize={26.5}>(b)</text>
          <text x={36.7} y={979.3} fontSize={26.5}>(c)</text>
        </g>
        <line x1={10} x2={1410} y1={494} y2={494} stroke="#000" strokeWidth={3.5} />
        <line x1={10} x2={1410} y1={951.5} y2={951.5} stroke="#000" strokeWidth={3.5} />
        {YLABELS.map((parts, r) => (
          <YLabel key={r} parts={parts} cy={ROW_BOTTOM[r] - PLOT_H / 2} />
        ))}
      </svg>
    </div>
  );
}
